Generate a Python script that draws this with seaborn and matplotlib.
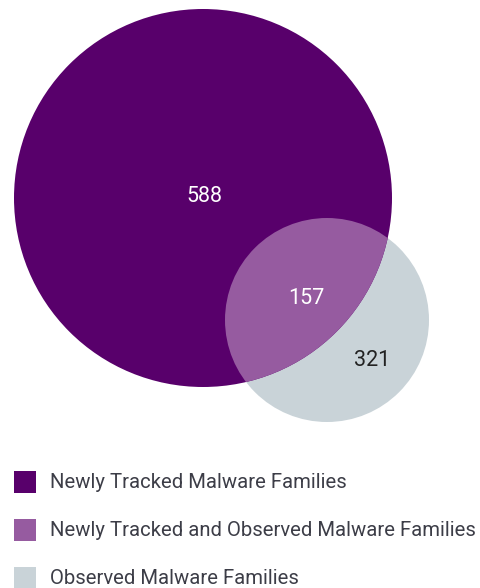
import matplotlib
matplotlib.use('Agg')
import matplotlib.pyplot as plt
from matplotlib.patches import Circle, Rectangle
import seaborn as sns

# Venn data
set_labels = ["Newly Tracked Malware Families",
              "Newly Tracked and Observed Malware Families",
              "Observed Malware Families"]
region_counts = [588, 157, 321]
region_colors = ["#58006b", "#965ba0", "#c9d3d8"]
count_colors = ["white", "white", "#222222"]

sns.set_theme(style="white")
plt.rcParams['font.family'] = ['Roboto', 'DejaVu Sans']

fig = plt.figure(figsize=(4.8, 5.88), dpi=100)
ax = fig.add_axes([0, 0, 1, 1])
ax.set_xlim(0, 480)
ax.set_ylim(588, 0)
ax.set_aspect('equal')
ax.axis('off')

# circle layout (pixels)
big_c, big_r = (203, 198), 189
small_c, small_r = (327, 320), 102

big = Circle(big_c, big_r, facecolor=region_colors[0], edgecolor='none')
small = Circle(small_c, small_r, facecolor=region_colors[2], edgecolor='none')
ax.add_patch(small)
ax.add_patch(big)
inter = Circle(small_c, small_r, facecolor=region_colors[1], edgecolor='none')
ax.add_patch(inter)
inter.set_clip_path(big)

label_pos = [(204, 197), (306, 298), (372, 360)]
for (x, y), n, c in zip(label_pos, region_counts, count_colors):
    ax.text(x, y, str(n), color=c, fontsize=15.5, ha='center', va='center')

# legend, drawn by hand
for i, (lab, col) in enumerate(zip(set_labels, region_colors)):
    y = 482 + 48 * i
    ax.add_patch(Rectangle((14, y - 11), 22, 22, facecolor=col, edgecolor='none'))
    ax.text(50, y, lab, color='#3c3d47', fontsize=14.6, ha='left', va='center')

fig.savefig('out.png', dpi=100)
